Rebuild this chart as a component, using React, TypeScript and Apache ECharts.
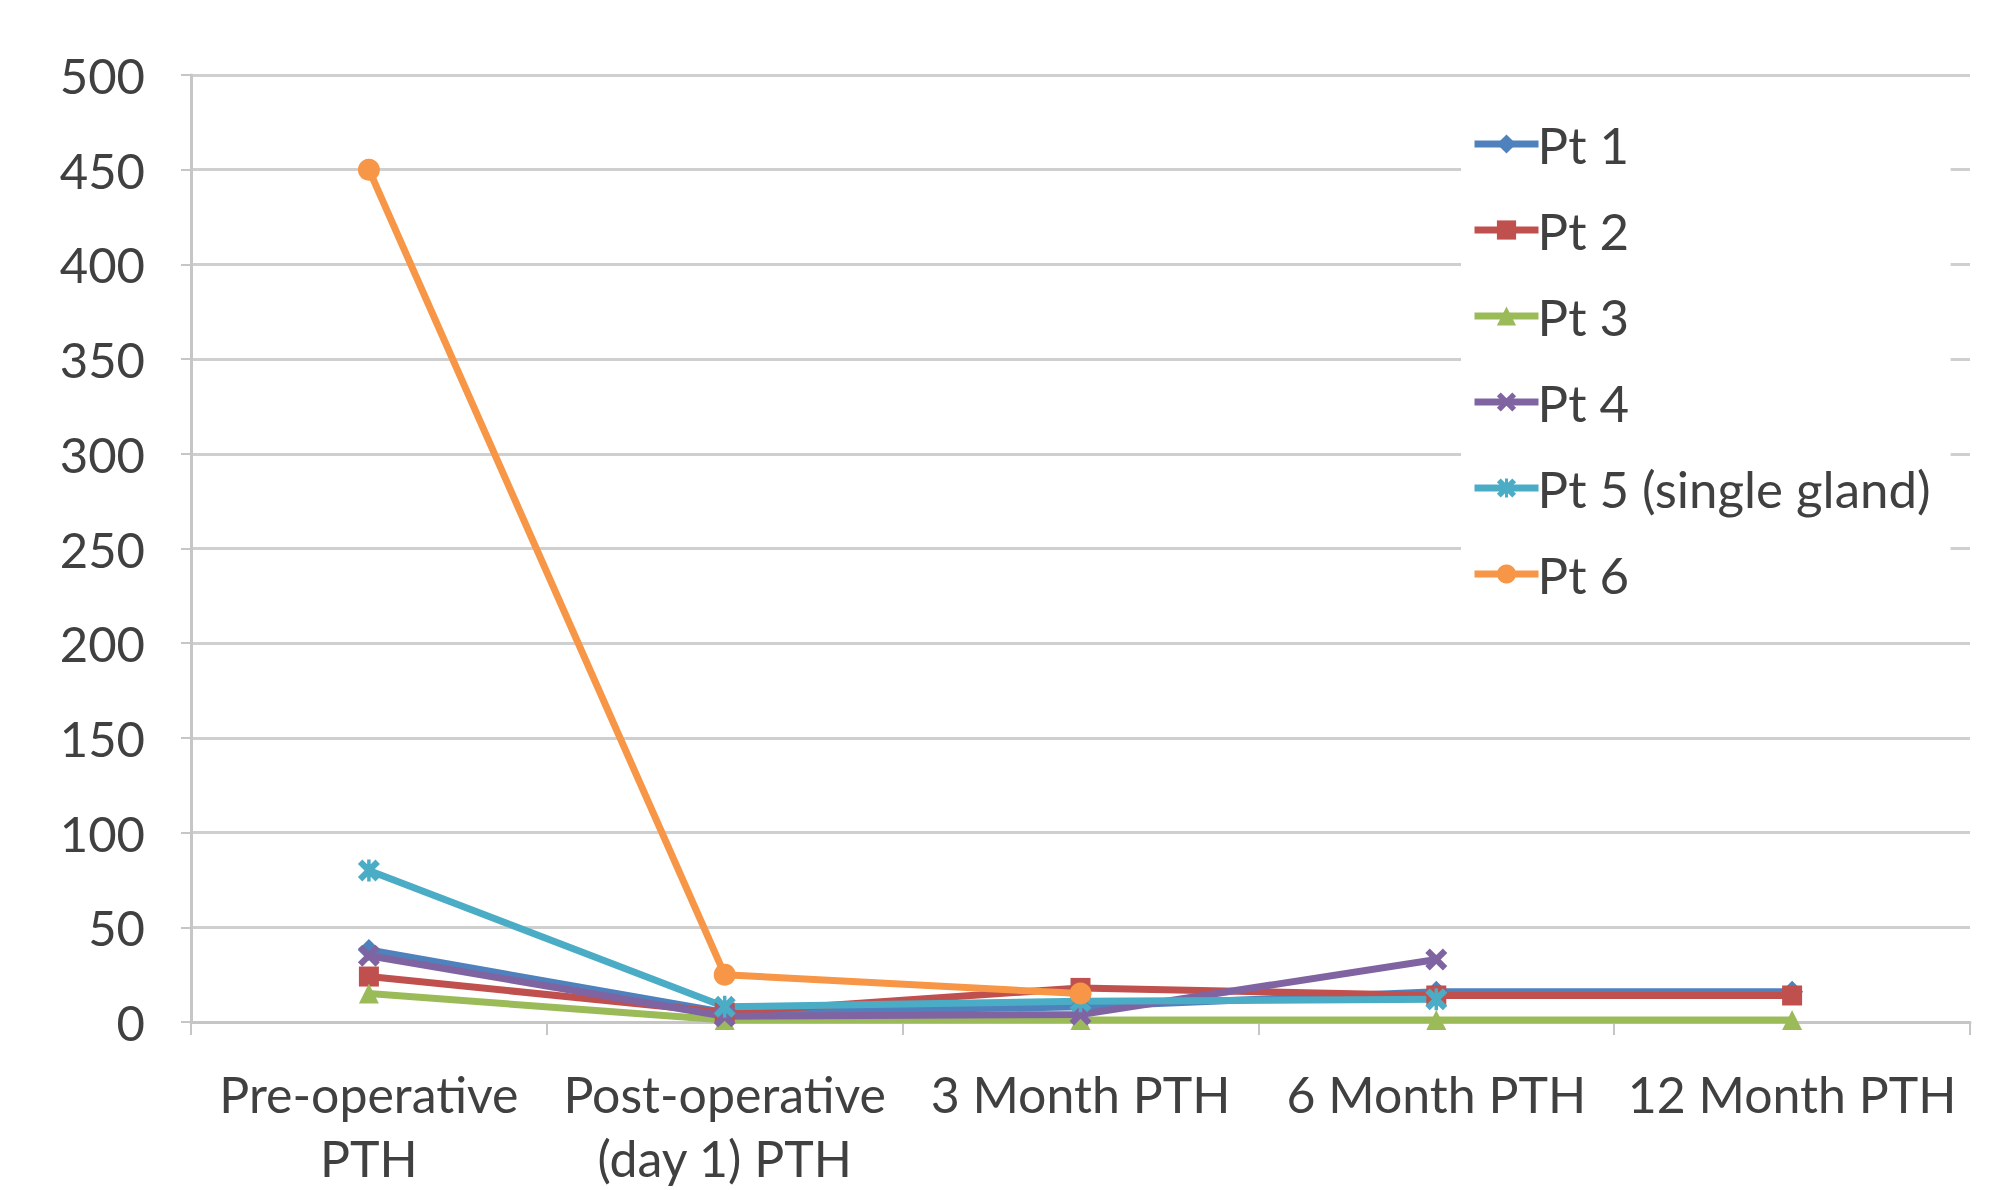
import React, { useEffect, useRef } from "react";
import * as echarts from "echarts";

const categories = [
  "Pre-operative\nPTH",
  "Post-operative\n(day 1) PTH",
  "3 Month PTH",
  "6 Month PTH",
  "12 Month PTH",
];
const seriesNames = ["Pt 1", "Pt 2", "Pt 3", "Pt 4", "Pt 5 (single gland)", "Pt 6"];
const pt1 = [38, 5, 8, 16, 16];
const pt2 = [24, 5, 18, 14, 14];
const pt3 = [15, 1, 1, 1, 1];
const pt4 = [35, 3, 4, 33, null];
const pt5 = [80, 8, 11, 12, null];
const pt6 = [450, 25, 15, null, null];
const yTicks = { min: 0, max: 500, interval: 50 };

const colors = ["#4F81BD", "#C0504D", "#9BBB59", "#8064A2", "#4BACC6", "#F79646"];
const xPath =
  "path://M0,2 L2,0 L5,3 L8,0 L10,2 L7,5 L10,8 L8,10 L5,7 L2,10 L0,8 L3,5 Z";
const starPath =
  "path://M0,2 L2,0 L5,3 L8,0 L10,2 L7,5 L10,8 L8,10 L5,7 L2,10 L0,8 L3,5 Z M4.2,0 L5.8,0 L5.8,10 L4.2,10 Z";
const symbols = ["diamond", "rect", "triangle", xPath, starPath, "circle"];
const symbolSizes = [22, 20, 20, 22, 22, 22];

export default function App() {
  const ref = useRef<HTMLDivElement>(null);
  useEffect(() => {
    if (!ref.current) return;
    const chart = echarts.init(ref.current, null, { renderer: "svg" });
    const data = [pt1, pt2, pt3, pt4, pt5, pt6];
    const font = "Lato";
    chart.setOption({
      animation: false,
      backgroundColor: "#ffffff",
      color: colors,
      textStyle: { fontFamily: font, color: "#404040" },
      grid: { left: 191, right: 40, top: 75, bottom: 164, containLabel: false },
      legend: {
        orient: "vertical",
        left: 1461,
        top: 99,
        padding: [15, 20, 10, 10],
        itemGap: 26,
        itemWidth: 64,
        itemHeight: 24,
        backgroundColor: "#ffffff",
        lineStyle: { width: 7 },
        textStyle: { fontSize: 51, lineHeight: 60, color: "#404040", fontFamily: font, padding: [0, 0, 0, -6] },
        data: seriesNames,
      },
      xAxis: {
        type: "category",
        data: categories,
        boundaryGap: true,
        axisLine: { show: true, lineStyle: { color: "#c6c6c6", width: 3 } },
        axisTick: { show: true, alignWithLabel: false, length: 13, lineStyle: { color: "#c6c6c6", width: 2 } },
        axisLabel: {
          fontSize: 50,
          lineHeight: 64,
          margin: 40,
          color: "#404040",
          fontFamily: font,
          interval: 0,
        },
        splitLine: { show: false },
      },
      yAxis: {
        type: "value",
        min: yTicks.min,
        max: yTicks.max,
        interval: yTicks.interval,
        axisLine: { show: true, lineStyle: { color: "#c6c6c6", width: 3 } },
        axisTick: { show: true, length: 10, lineStyle: { color: "#c6c6c6", width: 2 } },
        axisLabel: { fontSize: 49, margin: 46, color: "#404040", fontFamily: font },
        splitLine: { show: true, lineStyle: { color: "#cfcfcf", width: 3 } },
      },
      series: seriesNames.map((name, i) => ({
        name,
        type: "line",
        data: data[i],
        symbol: symbols[i],
        symbolSize: symbolSizes[i],
        showAllSymbol: true,
        lineStyle: { width: 7, color: colors[i] },
        itemStyle: { color: colors[i] },
        emphasis: { disabled: true },
      })),
    });
    return () => chart.dispose();
  }, []);
  return (
    <div
      ref={ref}
      style={{ position: "absolute", left: 0, top: 0, width: 2010, height: 1190 }}
    />
  );
}
